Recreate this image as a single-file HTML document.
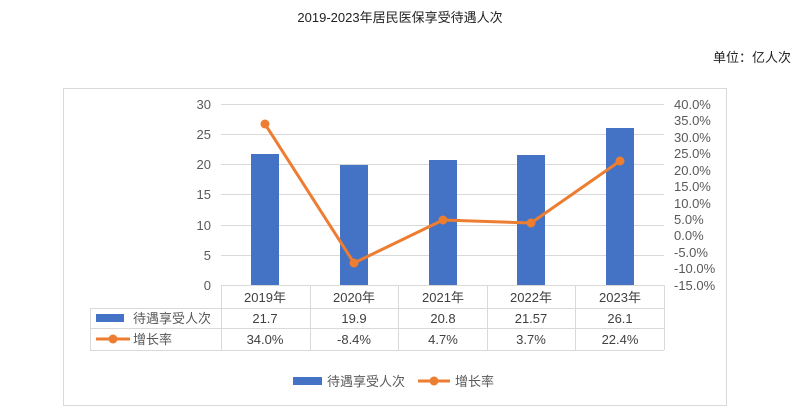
<!DOCTYPE html>
<html><head><meta charset="utf-8"><style>
body{margin:0;background:#fff;}
text{font-family:"Liberation Sans","Noto Sans CJK SC",sans-serif;}
</style></head><body>
<svg width="800" height="411" viewBox="0 0 800 411" xmlns="http://www.w3.org/2000/svg">
<text x="400" y="22" font-size="13" text-anchor="middle" fill="#222">2019-2023年居民医保享受待遇人次</text>
<text x="791" y="62" font-size="13" text-anchor="end" fill="#222">单位：亿人次</text>
<rect x="63.5" y="88.5" width="663" height="317" fill="none" stroke="#d9d9d9"/>
<g stroke="#d9d9d9" stroke-width="1">
<line x1="221" x2="664" y1="104.5" y2="104.5"/>
<line x1="221" x2="664" y1="134.5" y2="134.5"/>
<line x1="221" x2="664" y1="164.5" y2="164.5"/>
<line x1="221" x2="664" y1="194.5" y2="194.5"/>
<line x1="221" x2="664" y1="225.5" y2="225.5"/>
<line x1="221" x2="664" y1="255.5" y2="255.5"/>
</g>
<g font-size="13" fill="#595959" text-anchor="end">
<text x="211" y="109">30</text><text x="211" y="139">25</text><text x="211" y="169">20</text>
<text x="211" y="199">15</text><text x="211" y="230">10</text><text x="211" y="260">5</text><text x="211" y="290">0</text>
</g>
<g font-size="13" fill="#595959">
<text x="674" y="109">40.0%</text><text x="674" y="125">35.0%</text><text x="674" y="142">30.0%</text>
<text x="674" y="158">25.0%</text><text x="674" y="175">20.0%</text><text x="674" y="191">15.0%</text>
<text x="674" y="208">10.0%</text><text x="674" y="224">5.0%</text><text x="674" y="240">0.0%</text>
<text x="674" y="257">-5.0%</text><text x="674" y="273">-10.0%</text><text x="674" y="290">-15.0%</text>
</g>
<g fill="#4472c4">
<rect x="251" y="154" width="28" height="131"/>
<rect x="340" y="165" width="28" height="120"/>
<rect x="429" y="160" width="28" height="125"/>
<rect x="517" y="155" width="28" height="130"/>
<rect x="606" y="128" width="28" height="157"/>
</g>
<polyline points="265,124 354,263 443,220 531,223 620,161" fill="none" stroke="#ed7d31" stroke-width="3" stroke-linejoin="round"/>
<g fill="#ed7d31">
<circle cx="265" cy="124" r="4.5"/><circle cx="354" cy="263" r="4.5"/><circle cx="443" cy="220" r="4.5"/>
<circle cx="531" cy="223" r="4.5"/><circle cx="620" cy="161" r="4.5"/>
</g>
<g stroke="#d9d9d9" stroke-width="1" fill="none">
<line x1="221" x2="664" y1="285.5" y2="285.5"/>
<line x1="90" x2="664" y1="308.5" y2="308.5"/>
<line x1="90" x2="664" y1="328.5" y2="328.5"/>
<line x1="90" x2="664" y1="350.5" y2="350.5"/>
<line x1="90.5" x2="90.5" y1="308" y2="350"/>
<line x1="221.5" x2="221.5" y1="285" y2="350"/>
<line x1="310.5" x2="310.5" y1="285" y2="350"/>
<line x1="398.5" x2="398.5" y1="285" y2="350"/>
<line x1="487.5" x2="487.5" y1="285" y2="350"/>
<line x1="575.5" x2="575.5" y1="285" y2="350"/>
<line x1="664.5" x2="664.5" y1="285" y2="350"/>
</g>
<g font-size="13" fill="#404040" text-anchor="middle">
<text x="265" y="302">2019年</text><text x="354" y="302">2020年</text><text x="443" y="302">2021年</text><text x="531" y="302">2022年</text><text x="620" y="302">2023年</text>
<text x="265" y="323">21.7</text><text x="354" y="323">19.9</text><text x="443" y="323">20.8</text><text x="531" y="323">21.57</text><text x="620" y="323">26.1</text>
<text x="265" y="344">34.0%</text><text x="354" y="344">-8.4%</text><text x="443" y="344">4.7%</text><text x="531" y="344">3.7%</text><text x="620" y="344">22.4%</text>
</g>
<rect x="96" y="314" width="28" height="8" fill="#4472c4"/>
<text x="133" y="323" font-size="13" fill="#595959">待遇享受人次</text>
<line x1="96" x2="130" y1="339" y2="339" stroke="#ed7d31" stroke-width="3"/>
<circle cx="113" cy="339" r="4.5" fill="#ed7d31"/>
<text x="133" y="344" font-size="13" fill="#595959">增长率</text>
<rect x="293" y="377" width="29" height="8" fill="#4472c4"/>
<text x="327" y="386" font-size="13" fill="#595959">待遇享受人次</text>
<line x1="418" x2="450" y1="381" y2="381" stroke="#ed7d31" stroke-width="3"/>
<circle cx="434" cy="381" r="4.5" fill="#ed7d31"/>
<text x="455" y="386" font-size="13" fill="#595959">增长率</text>
</svg>
</body></html>
